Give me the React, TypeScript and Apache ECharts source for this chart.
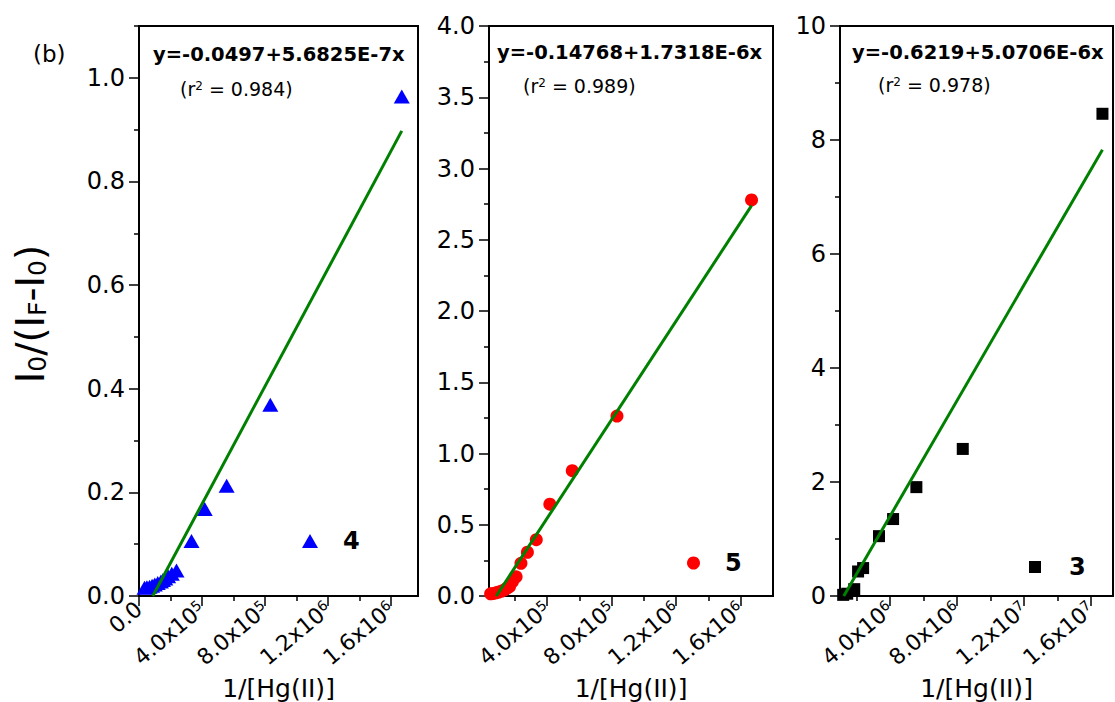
import React, { useEffect, useRef } from 'react';
import * as echarts from 'echarts';

// ---- Data ----
const x4 = [35000, 50000, 67000, 83000, 100000, 119000, 139000, 152000, 167000, 185000, 208000, 238000, 333000, 417000, 556000, 833000, 1667000];
const y4 = [0.016, 0.017, 0.018, 0.020, 0.022, 0.025, 0.028, 0.031, 0.034, 0.038, 0.043, 0.049, 0.106, 0.168, 0.213, 0.369, 0.964];

const x5 = [50000, 67000, 83000, 100000, 119000, 139000, 152000, 167000, 185000, 208000, 238000, 278000, 333000, 417000, 556000, 833000, 1667000];
const y5 = [0.015, 0.018, 0.022, 0.028, 0.035, 0.045, 0.055, 0.065, 0.100, 0.135, 0.229, 0.307, 0.395, 0.644, 0.879, 1.263, 2.779];

const x3 = [1190000, 1430000, 1850000, 2080000, 2380000, 3330000, 4170000, 5560000, 8330000, 16670000];
const y3 = [0.02, 0.04, 0.12, 0.43, 0.49, 1.05, 1.35, 1.91, 2.58, 8.46];

// linear fits: intercept, slope (as plotted)
const fit4 = [-0.0497, 5.6825e-7];
const fit5 = [-0.14768, 1.7318e-6];
const fit3 = [-0.6219, 5.0706e-7];

const eq4 = 'y=-0.0497+5.6825E-7x';
const eq5 = 'y=-0.14768+1.7318E-6x';
const eq3 = 'y=-0.6219+5.0706E-6x';
const r4 = '0.984';
const r5 = '0.989';
const r3 = '0.978';

// axis ranges and ticks
const xRange4 = [0, 1770000];
const xRange5 = [40000, 1800000];
const xRange3 = [1000000, 17300000];
const yRange4 = [0, 1.1];
const yRange5 = [0, 4.0];
const yRange3 = [0, 10];

const xMajor4 = [0, 400000, 800000, 1200000, 1600000];
const xMinor4 = [200000, 600000, 1000000, 1400000];
const xMajor5 = [400000, 800000, 1200000, 1600000];
const xMinor5 = [200000, 600000, 1000000, 1400000];
const xMajor3 = [4000000, 8000000, 12000000, 16000000];
const xMinor3 = [2000000, 6000000, 10000000, 14000000];

const yMajor4 = [0, 0.2, 0.4, 0.6, 0.8, 1.0];
const yMinor4 = [0.1, 0.3, 0.5, 0.7, 0.9, 1.1];
const yMajor5 = [0, 0.5, 1.0, 1.5, 2.0, 2.5, 3.0, 3.5, 4.0];
const yMinor5 = [0.25, 0.75, 1.25, 1.75, 2.25, 2.75, 3.25, 3.75];
const yMajor3 = [0, 2, 4, 6, 8, 10];
const yMinor3 = [1, 3, 5, 7, 9];

const FONT = 'DejaVu Sans';

function sciLabel(v: number): string {
  if (v === 0) return '0.0';
  const e = Math.floor(Math.log10(v) + 1e-9);
  const m = v / Math.pow(10, e);
  return m.toFixed(1) + 'x10{sup|' + e + '}';
}

function zip(xs: number[], ys: number[]) {
  return xs.map((x, i) => [x, ys[i]]);
}

function fitLine(fit: number[], xs: number[]) {
  const [a, b] = fit;
  const xStart = -a / b;
  const xEnd = Math.max(...xs);
  return [[xStart, a + b * xStart], [xEnd, a + b * xEnd]];
}

export default function App() {
  const ref = useRef<HTMLDivElement>(null);
  useEffect(() => {
    if (!ref.current) return;
    const chart = echarts.init(ref.current, undefined, { renderer: 'svg' });

    const grids = [
      { left: 139, top: 26, width: 279, height: 570 },
      { left: 489, top: 26, width: 284, height: 570 },
      { left: 840, top: 26, width: 273, height: 570 },
    ];
    const xr = [xRange4, xRange5, xRange3];
    const yr = [yRange4, yRange5, yRange3];
    const xMaj = [xMajor4, xMajor5, xMajor3];
    const xMin = [xMinor4, xMinor5, xMinor3];
    const yMaj = [yMajor4, yMajor5, yMajor3];
    const yMin = [yMinor4, yMinor5, yMinor3];
    const yFmt = [
      (v: number) => v.toFixed(1),
      (v: number) => v.toFixed(1),
      (v: number) => String(Math.round(v)),
    ];

    const xAxes: any[] = [];
    const yAxes: any[] = [];
    for (let i = 0; i < 3; i++) {
      xAxes.push({
        type: 'value', gridIndex: i, min: xr[i][0], max: xr[i][1], position: 'bottom',
        axisLine: { show: true, onZero: false, lineStyle: { color: '#000', width: 2 } },
        axisTick: { show: true, customValues: xMaj[i], length: 10, lineStyle: { color: '#000', width: 1.5 } },
        axisLabel: {
          show: true, customValues: xMaj[i], formatter: sciLabel, rotate: 40, margin: 10,
          fontSize: 22, fontFamily: FONT, color: '#000',
          rich: { sup: { fontSize: 14, fontFamily: FONT, color: '#000', verticalAlign: 'top' } },
        },
        splitLine: { show: false },
        name: '1/[Hg(II)]', nameLocation: 'middle', nameGap: 71,
        nameTextStyle: { fontSize: 25, fontFamily: FONT, color: '#000' },
      });
      xAxes.push({
        type: 'value', gridIndex: i, min: xr[i][0], max: xr[i][1], position: 'bottom',
        axisLine: { show: false },
        axisTick: { show: true, customValues: xMin[i], length: 5, lineStyle: { color: '#000', width: 1.5 } },
        axisLabel: { show: false },
        splitLine: { show: false },
      });
      yAxes.push({
        type: 'value', gridIndex: i, min: yr[i][0], max: yr[i][1], position: 'left',
        axisLine: { show: true, onZero: false, lineStyle: { color: '#000', width: 2 } },
        axisTick: { show: true, customValues: yMaj[i], length: 10, lineStyle: { color: '#000', width: 1.5 } },
        axisLabel: {
          show: true, customValues: yMaj[i], formatter: yFmt[i], margin: 14,
          fontSize: 24, fontFamily: FONT, color: '#000',
        },
        splitLine: { show: false },
      });
      yAxes.push({
        type: 'value', gridIndex: i, min: yr[i][0], max: yr[i][1], position: 'left',
        axisLine: { show: false },
        axisTick: { show: true, customValues: yMin[i], length: 5, lineStyle: { color: '#000', width: 1.5 } },
        axisLabel: { show: false },
        splitLine: { show: false },
      });
    }

    const legendBase = {
      orient: 'horizontal', padding: 0, selectedMode: false,
    };
    const legendText = (pad: number) => ({
      fontSize: 24, fontWeight: 'bold', fontFamily: FONT, color: '#000', padding: [0, 0, 0, pad],
    });

    const eqTexts = [
      { x: 153, y: 54, eq: eq4, rx: 180, ry: 89, r: r4 },
      { x: 497, y: 52, eq: eq5, rx: 523, ry: 86, r: r5 },
      { x: 852, y: 52, eq: eq3, rx: 878, ry: 85, r: r3 },
    ];
    const graphics: any[] = [];
    eqTexts.forEach((t) => {
      graphics.push({
        type: 'text', x: t.x, y: t.y,
        style: { text: t.eq, fontSize: 19.5, fontWeight: 'bold', fontFamily: FONT, fill: '#000', align: 'left', verticalAlign: 'middle' },
      });
      graphics.push({
        type: 'text', x: t.rx, y: t.ry,
        style: {
          text: '(r{sup|2} = ' + t.r + ')', fontSize: 19, fontFamily: FONT, fill: '#000', align: 'left', verticalAlign: 'middle',
          rich: { sup: { fontSize: 12, fontFamily: FONT, fill: '#000', verticalAlign: 'top' } },
        },
      });
    });
    graphics.push({
      type: 'text', x: 33, y: 54,
      style: { text: '(b)', fontSize: 23, fontFamily: FONT, fill: '#000', align: 'left', verticalAlign: 'middle' },
    });
    graphics.push({
      type: 'text', x: 30, y: 314, rotation: Math.PI / 2,
      style: {
        text: 'I{sub|0}/(I{sub|F}-I{sub|0})', fontSize: 39, fontFamily: FONT, fill: '#000',
        align: 'center', verticalAlign: 'middle',
        rich: { sub: { fontSize: 25, fontFamily: FONT, fill: '#000', verticalAlign: 'bottom' } },
      },
    });

    const option: any = {
      animation: false,
      backgroundColor: '#fff',
      textStyle: { fontFamily: FONT },
      grid: grids.map((g) => ({
        ...g, show: true, borderColor: '#000', borderWidth: 2, backgroundColor: 'transparent',
        containLabel: false, outerBoundsMode: 'none',
      })),
      xAxis: xAxes,
      yAxis: yAxes,
      legend: [
        { ...legendBase, data: ['4'], left: 302, top: 529, itemWidth: 16, itemHeight: 14, textStyle: legendText(20) },
        { ...legendBase, data: ['5'], left: 687, top: 551, itemWidth: 13, itemHeight: 13, textStyle: legendText(20) },
        { ...legendBase, data: ['3'], left: 1029, top: 555, itemWidth: 12, itemHeight: 12, textStyle: legendText(23) },
      ],
      series: [
        { name: '4', type: 'scatter', xAxisIndex: 0, yAxisIndex: 0, data: zip(x4, y4), symbol: 'triangle', symbolSize: [16, 14], itemStyle: { color: '#0000ff', opacity: 1 }, z: 2 },
        { name: 'fit4', type: 'line', xAxisIndex: 0, yAxisIndex: 0, data: fitLine(fit4, x4), symbol: 'none', lineStyle: { color: '#008000', width: 3 }, z: 3 },
        { name: '5', type: 'scatter', xAxisIndex: 2, yAxisIndex: 2, data: zip(x5, y5), symbol: 'circle', symbolSize: 13, itemStyle: { color: '#ff0000', opacity: 1 }, z: 2 },
        { name: 'fit5', type: 'line', xAxisIndex: 2, yAxisIndex: 2, data: fitLine(fit5, x5), symbol: 'none', lineStyle: { color: '#008000', width: 3 }, z: 3 },
        { name: '3', type: 'scatter', xAxisIndex: 4, yAxisIndex: 4, data: zip(x3, y3), symbol: 'rect', symbolSize: 12, itemStyle: { color: '#000000', opacity: 1 }, z: 2 },
        { name: 'fit3', type: 'line', xAxisIndex: 4, yAxisIndex: 4, data: fitLine(fit3, x3), symbol: 'none', lineStyle: { color: '#008000', width: 3 }, z: 3 },
      ],
      graphic: graphics,
    };
    chart.setOption(option);
    return () => chart.dispose();
  }, []);
  return <div ref={ref} style={{ position: 'absolute', left: 0, top: 0, width: 1115, height: 702, background: '#fff' }} />;
}
